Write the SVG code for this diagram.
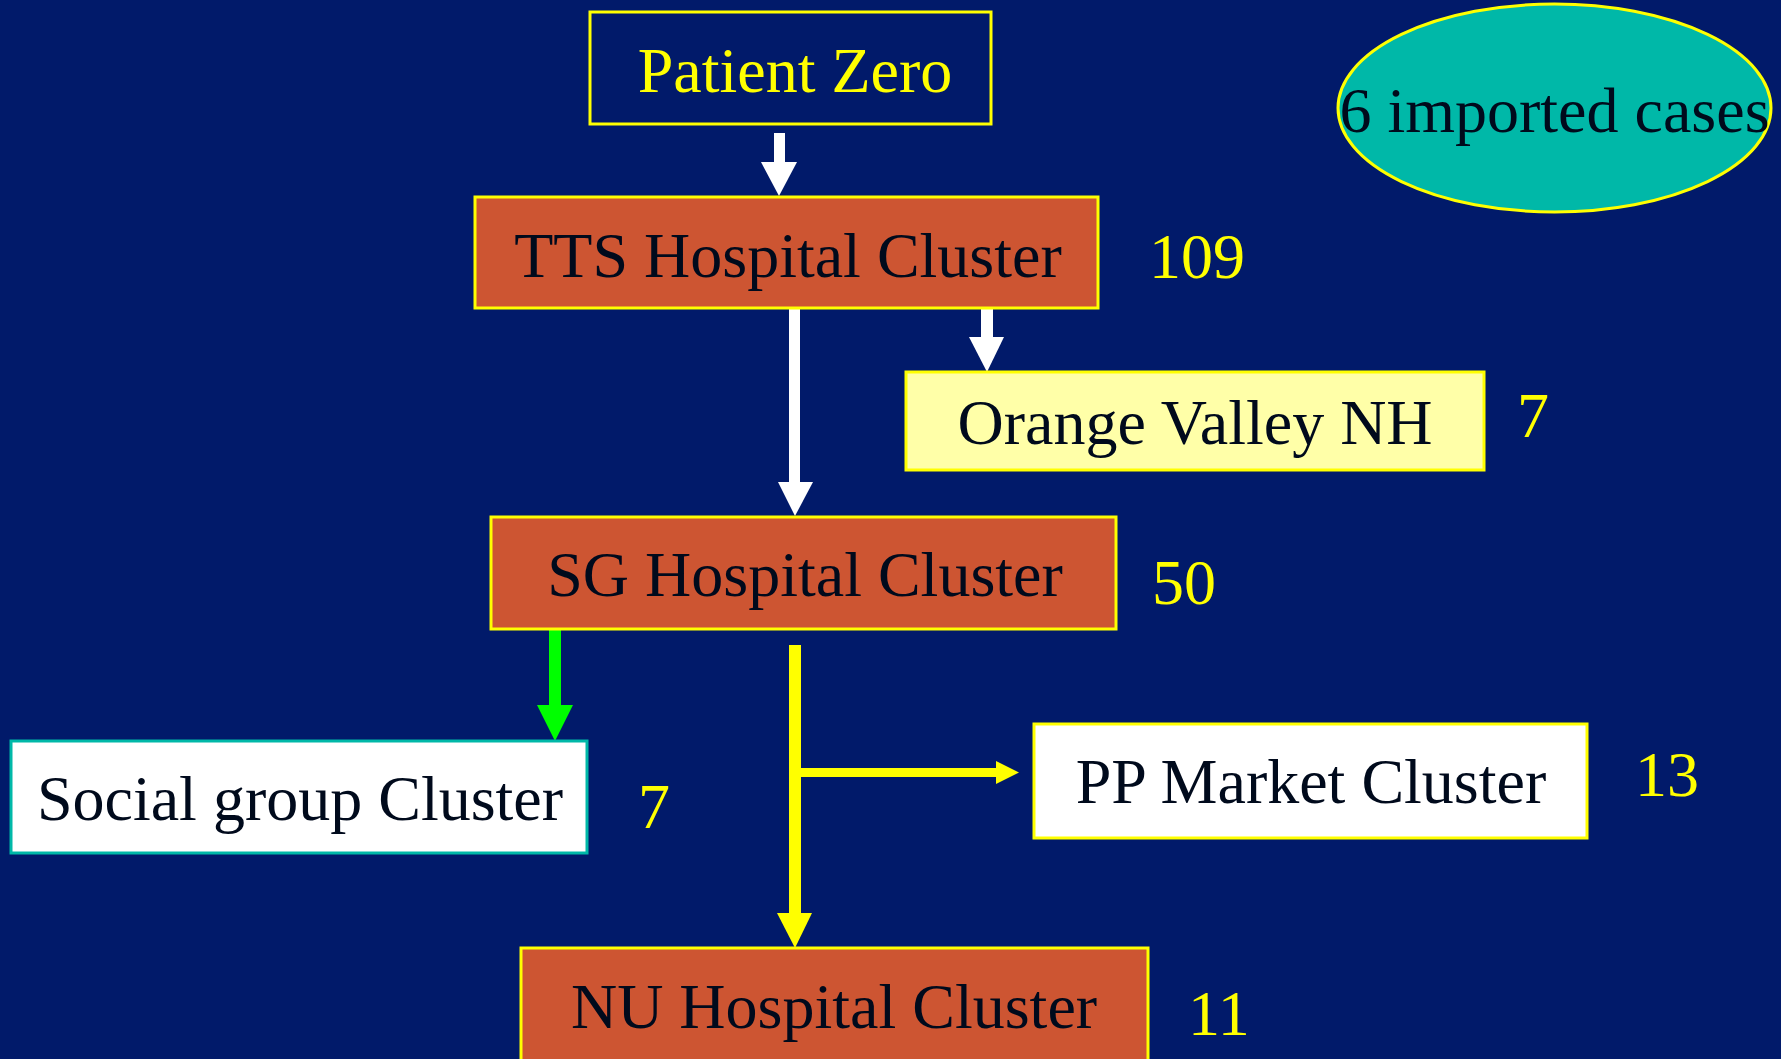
<svg xmlns="http://www.w3.org/2000/svg" width="1781" height="1059" viewBox="0 0 1781 1059">
<style>
text{font-family:"Liberation Serif","Times New Roman",serif;font-size:64px;text-anchor:middle}
.dark{fill:#000a1c}
.num{fill:#ffff00;text-anchor:start}
.hosp{fill:#cd5532;stroke:#ffff00;stroke-width:3}
</style>
<rect x="0" y="0" width="1781" height="1059" fill="#011a6a"/>
<g id="connectors">
<g fill="#ffffff">
<rect x="774" y="133" width="11" height="30"/>
<polygon points="761,162 797,162 779,196"/>
<rect x="789" y="309" width="11" height="174"/>
<polygon points="778,482 813,482 795,516"/>
<rect x="981" y="309" width="12" height="29"/>
<polygon points="969,337 1004,337 987,372"/>
</g>
<g fill="#00ff00">
<rect x="549" y="630" width="12" height="76"/>
<polygon points="537,705 573,705 555,741"/>
</g>
<g fill="#ffff00">
<rect x="789" y="645" width="12" height="269"/>
<polygon points="777,913 812,913 795,948"/>
<rect x="800" y="768" width="197" height="9"/>
<polygon points="996,761 996,784 1019,772.5"/>
</g>
</g>
<g id="patient-zero">
<rect x="590" y="12" width="401" height="112" fill="none" stroke="#ffff00" stroke-width="3"/>
<text x="795" y="92" fill="#ffff00">Patient Zero</text>
</g>
<g id="imported">
<ellipse cx="1554.5" cy="108" rx="216.5" ry="104" fill="#00b8a8" stroke="#ffff00" stroke-width="3"/>
<text x="1554.5" y="132" class="dark">6 imported cases</text>
</g>
<g id="tts">
<rect x="475" y="197" width="623" height="111" class="hosp"/>
<text x="788" y="277" class="dark">TTS Hospital Cluster</text>
<text x="1149" y="278" class="num">109</text>
</g>
<g id="orange-valley">
<rect x="906" y="372" width="578" height="98" fill="#ffffa8" stroke="#ffff00" stroke-width="3"/>
<text x="1195" y="444" class="dark">Orange Valley NH</text>
<text x="1517" y="437" class="num">7</text>
</g>
<g id="sg">
<rect x="491" y="517" width="625" height="112" class="hosp"/>
<text x="805" y="596" class="dark">SG Hospital Cluster</text>
<text x="1152" y="604" class="num">50</text>
</g>
<g id="social">
<rect x="11" y="741" width="576" height="112" fill="#ffffff" stroke="#00b8a8" stroke-width="3"/>
<text x="300" y="820" class="dark">Social group Cluster</text>
<text x="638" y="828" class="num">7</text>
</g>
<g id="pp-market">
<rect x="1034" y="724" width="553" height="114" fill="#ffffff" stroke="#ffff00" stroke-width="3"/>
<text x="1311" y="803" class="dark">PP Market Cluster</text>
<text x="1635" y="796" class="num">13</text>
</g>
<g id="nu">
<rect x="521" y="948" width="627" height="120" class="hosp"/>
<text x="834" y="1028" class="dark">NU Hospital Cluster</text>
<text x="1188" y="1035" class="num">11</text>
</g>
</svg>
